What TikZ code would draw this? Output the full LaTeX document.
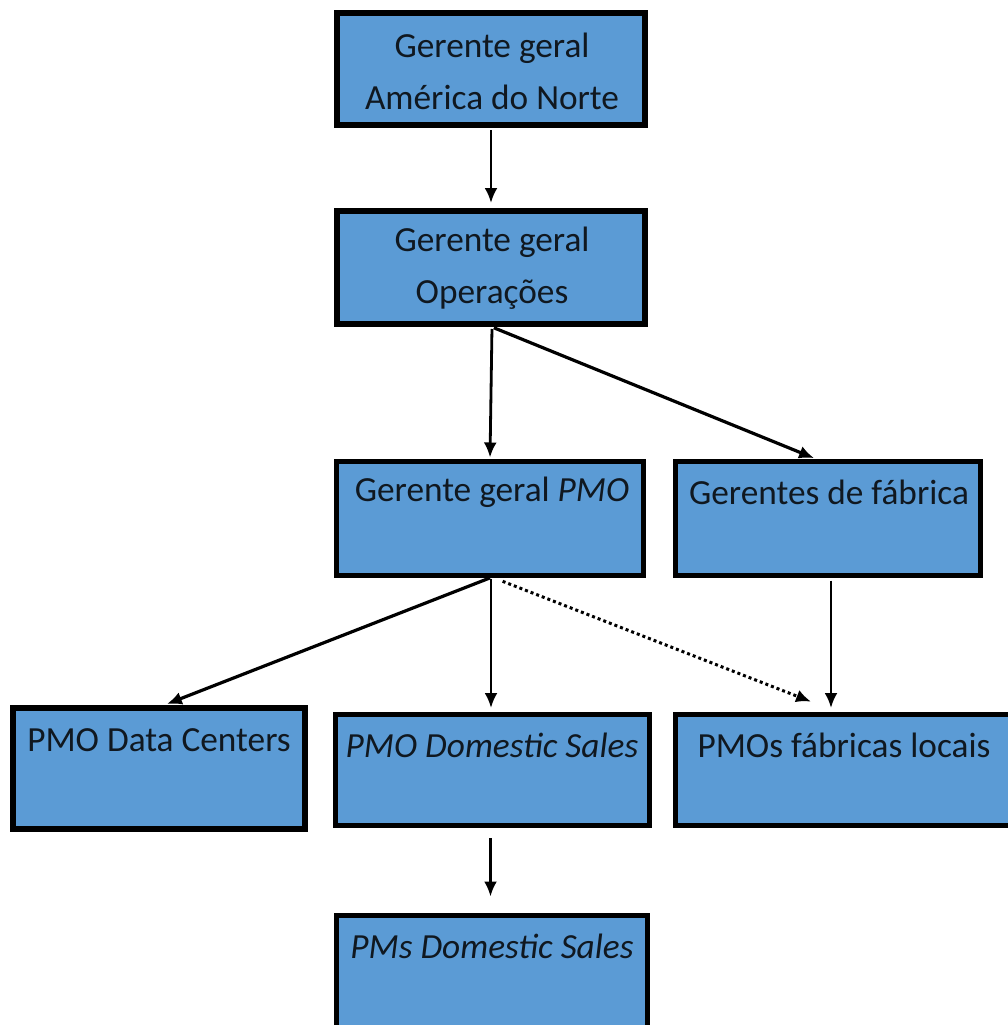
\documentclass[tikz,border=0pt]{standalone}
\usepackage{fontspec}
\setmainfont{Carlito}
\usetikzlibrary{arrows.meta,calc}
\definecolor{boxblue}{HTML}{5B9BD5}
\definecolor{inkdark}{HTML}{101820}
\begin{document}
\begin{tikzpicture}[x=1pt,y=-1pt,
  box/.style={draw=black,fill=boxblue,line width=5pt,rectangle,inner sep=0pt},
  lbl/.style={text=inkdark,font=\fontsize{35.3}{52}\selectfont,align=center,inner sep=0pt,anchor=center},
  arr/.style={draw=black,line width=2.8pt,-{Latex[length=15pt,width=13pt]}},
  dotarr/.style={draw=black,line width=3pt,dash pattern=on 3pt off 3pt,-{Latex[length=15pt,width=13pt]}}]
\useasboundingbox (0,0) rectangle (1008,1025);
\clip (0,0) rectangle (1008,1025);

% boxes
\node[box,line width=6pt,minimum width=308pt,minimum height=112pt] (b1) at (491,69) {};
\node[box,line width=6pt,minimum width=308pt,minimum height=113pt] (b2) at (491,267.5) {};
\node[box,minimum width=307pt,minimum height=114pt] (b3) at (490,518) {};
\node[box,minimum width=305pt,minimum height=114pt] (b4) at (828,518) {};
\node[box,line width=6.5pt,minimum width=292pt,minimum height=121pt] (b5) at (159,768.5) {};
\node[box,minimum width=314pt,minimum height=111pt] (b6) at (492.5,770) {};
\node[box,minimum width=360pt,minimum height=111pt] (b7) at (855,770) {};
\node[box,minimum width=311pt,minimum height=140pt] (b8) at (492,985) {};

% labels
\node[lbl] (t1) at (492,71) {Gerente geral\\América do Norte};
\node[lbl] (t2) at (492,268) {Gerente geral\\Operações};
\node[lbl] (t3) at (492,492) {Gerente geral \textit{PMO}};
\node[lbl] (t4) at (829,492) {Gerentes de fábrica};
\node[lbl] (t5) at (159,740) {PMO Data Centers};
\node[lbl] (t6) at (492,745) {\textit{PMO Domestic Sales}};
\node[lbl] (t7) at (844,745) {PMOs fábricas locais};
\node[lbl] (t8) at (492,946) {\textit{PMs Domestic Sales}};

% connector end points
\coordinate (s2) at ($(b2.south)+(1,0)$);
\coordinate (s3) at ($(b3.south)+(1,0)$);
\coordinate (s3d) at ($(b3.south)+(8,2)$);
\coordinate (s4) at ($(b4.south)+(3,0)$);
\coordinate (s6) at ($(b6.south)+(-2,0)$);
\coordinate (e4) at ($(b4.north)+(-13,0)$);
\coordinate (e5) at ($(b5.north)+(6,0)$);
\coordinate (e6) at ($(b6.north)+(-1.5,0)$);
\coordinate (e7d) at ($(b7.north)+(-43,-10)$);

% connectors
\draw[arr,shorten <=2pt,shorten >=5pt] (b1.south) -- (b2.north);
\draw[arr,shorten <=2pt,shorten >=1pt] (s2) -- (b3.north);
\draw[arr,line width=3.2pt,shorten <=2pt,shorten >=1pt] (s2) -- (e4);
\draw[arr,line width=3.2pt,shorten <=1pt,shorten >=2pt] (s3) -- (e5);
\draw[arr,shorten <=1pt,shorten >=4pt] (s3) -- (e6);
\draw[dotarr,shorten <=5pt,shorten >=1pt] (s3d) -- (e7d);
\draw[arr,shorten <=3pt,shorten >=4pt] (s4) -- (s4 |- b7.north);
\draw[arr,shorten <=10pt,shorten >=16pt] (s6) -- (s6 |- b8.north);
\end{tikzpicture}
\end{document}
